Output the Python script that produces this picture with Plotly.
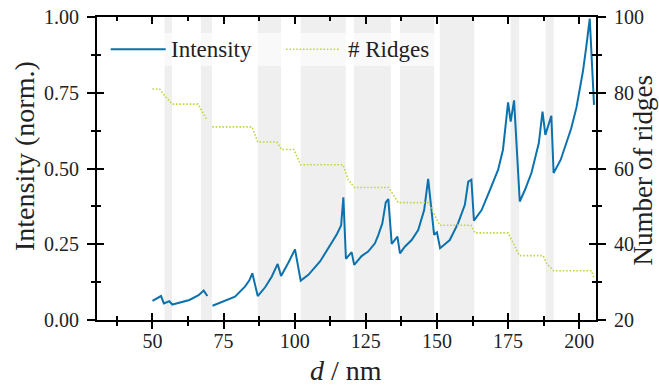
import plotly.graph_objects as go

# ---- data ----
d_int = [50, 53, 54, 55.9, 57, 60, 63, 66.2, 68, 69.3, 70,
         71.1, 75.5, 79, 82.5, 84, 85.1, 87, 89.6, 91.9, 94, 95.2, 97.8, 100.1,
         102.1, 104.8, 108.9, 111.8, 114.7, 116.3, 117.1, 118.0, 120.0, 120.9,
         123.5, 125.8, 128.2, 129.4, 130.8, 132, 132.9, 134.1, 136.1, 137,
         138.7, 141.1, 143.4, 145.5, 146.9, 149.0, 150, 151.1, 154.5, 157.4,
         159.8, 161, 162.1, 163, 165.7, 168.6, 171.5, 173.2, 175, 175.9, 177.1,
         179.1, 180.9, 183.2, 185.8, 187.1, 188.1, 190.2, 191, 193.5, 197.2,
         199, 201.3, 202.5, 203.7, 205.2]
intensity = [0.063, 0.079, 0.055, 0.062, 0.051, 0.058, 0.066, 0.082, 0.097, 0.079, None,
             0.047, 0.064, 0.077, 0.11, 0.13, 0.154, 0.079, 0.108, 0.143, 0.185, 0.145, 0.19, 0.233,
             0.130, 0.149, 0.193, 0.237, 0.281, 0.312, 0.405, 0.202, 0.224, 0.182,
             0.211, 0.226, 0.253, 0.281, 0.319, 0.388, 0.399, 0.251, 0.275, 0.220,
             0.242, 0.264, 0.297, 0.363, 0.466, 0.281, 0.289, 0.237, 0.264, 0.319,
             0.38, 0.457, 0.463, 0.328, 0.363, 0.429, 0.496, 0.562, 0.718, 0.655, 0.725,
             0.391, 0.429, 0.485, 0.584, 0.688, 0.611, 0.674, 0.485, 0.529, 0.633,
             0.70, 0.82, 0.903, 0.995, 0.71]

d_ridges = [50, 52.5, 54.5, 57, 66, 69, 70, 71, 85, 87, 93.7, 95.4, 99.7, 102.1,
            117, 118.8, 121, 133, 136.4, 147, 151, 162, 163.3, 175, 179, 187.3,
            188.5, 191, 204.3, 205.2]
ridges = [81, 81, 79, 77, 77, 73, None, 71, 71, 67, 67, 65, 65, 61,
          61, 57, 55, 55, 51, 51, 45, 45, 43, 43, 37, 37,
          35, 33, 33, 31]

band_start = [54.2, 67.0, 87.0, 102.1, 120.8, 137.0, 151.0, 175.9, 188.2]
band_end = [56.9, 70.9, 95.2, 117.9, 133.8, 149.0, 163.1, 178.9, 191.0]

x_ticks = [50, 75, 100, 125, 150, 175, 200]
y_ticks = [0.0, 0.25, 0.5, 0.75, 1.0]
y2_ticks = [20, 40, 60, 80, 100]

legend_names = ["Intensity", "# Ridges"]
x_title = "<i>d</i> / nm"
y_title = "Intensity (norm.)"
y2_title = "Number of ridges"

# ---- style ----
FONT = "Liberation Serif, DejaVu Serif, serif"
C_INT = "#0c72ae"
C_RID = "#c0d444"
XR = [30.5, 205.9]
W, H = 659, 389
ML, MR, MT, MB = 97, 63, 17, 69
PW, PH = W - ML - MR, H - MT - MB


def px2paper_x(px):
    return (px - ML) / PW


def px2paper_y(py):
    return (H - MB - py) / PH


fig = go.Figure()
fig.add_trace(go.Scatter(x=d_int, y=intensity, mode="lines", name=legend_names[0],
                         line=dict(color=C_INT, width=2), connectgaps=False,
                         xaxis="x", yaxis="y", showlegend=False))
fig.add_trace(go.Scatter(x=d_ridges, y=ridges, mode="lines", name=legend_names[1],
                         line=dict(color=C_RID, width=1.6, dash="1.6px,1.8px"),
                         connectgaps=False, xaxis="x", yaxis="y2", showlegend=False))
# dummy traces so the tick-only overlay axes are drawn
for xa, ya in [("x2", "y"), ("x", "y3"), ("x", "y4")]:
    fig.add_trace(go.Scatter(x=[None], y=[None], xaxis=xa, yaxis=ya,
                             showlegend=False, hoverinfo="skip"))

shapes = []
for s, e in zip(band_start, band_end):
    shapes.append(dict(type="rect", xref="x", yref="paper", x0=s, x1=e, y0=0, y1=1,
                       fillcolor="#efefef", line=dict(width=0), layer="below"))
# legend box
shapes.append(dict(type="rect", xref="paper", yref="paper",
                   x0=px2paper_x(103), x1=px2paper_x(434),
                   y0=px2paper_y(66), y1=px2paper_y(33),
                   fillcolor="rgba(255,255,255,0.6)", line=dict(width=0), layer="below"))
ly = px2paper_y(49.3)
shapes.append(dict(type="line", xref="paper", yref="paper",
                   x0=px2paper_x(110.7), x1=px2paper_x(165.7), y0=ly, y1=ly,
                   line=dict(color=C_INT, width=2)))
shapes.append(dict(type="line", xref="paper", yref="paper",
                   x0=px2paper_x(286), x1=px2paper_x(340), y0=ly, y1=ly,
                   line=dict(color=C_RID, width=1.6, dash="1.6px,1.8px")))

txtc = "#222"
annotations = [
    dict(text=legend_names[0], xref="paper", yref="paper", x=px2paper_x(169), y=ly,
         xanchor="left", yanchor="middle", showarrow=False,
         font=dict(family=FONT, size=23, color=txtc)),
    dict(text=legend_names[1], xref="paper", yref="paper", x=px2paper_x(345.5), y=ly,
         xanchor="left", yanchor="middle", showarrow=False,
         font=dict(family=FONT, size=23, color=txtc)),
    dict(text=x_title, xref="paper", yref="paper", x=px2paper_x(346), y=px2paper_y(370),
         xanchor="center", yanchor="middle", showarrow=False,
         font=dict(family=FONT, size=28, color=txtc)),
    dict(text=y_title, xref="paper", yref="paper", x=px2paper_x(24), y=px2paper_y(156),
         xanchor="center", yanchor="middle", showarrow=False, textangle=-90,
         font=dict(family=FONT, size=28, color=txtc)),
    dict(text=y2_title, xref="paper", yref="paper", x=px2paper_x(642.5), y=px2paper_y(171),
         xanchor="center", yanchor="middle", showarrow=False, textangle=-90,
         font=dict(family=FONT, size=27, color=txtc)),
]

tickfont = dict(family=FONT, size=20, color=txtc)
common = dict(showline=True, linecolor="black", linewidth=2, showgrid=False,
              zeroline=False, tickcolor="black", tickwidth=1.6, automargin=False)

fig.update_layout(
    width=W, height=H, margin=dict(l=ML, r=MR, t=MT, b=MB, autoexpand=False),
    paper_bgcolor="white", plot_bgcolor="white",
    font=dict(family=FONT),
    shapes=shapes, annotations=annotations, showlegend=False,
    xaxis=dict(range=XR, tickmode="array", tickvals=x_ticks, ticks="outside", ticklen=7,
               minor=dict(ticks="outside", ticklen=4, dtick=12.5, tick0=37.5,
                          tickcolor="black", tickwidth=1.6),
               tickfont=tickfont, anchor="y", ticklabelstandoff=-5, **common),
    xaxis2=dict(range=XR, overlaying="x", side="bottom", anchor="y", tickmode="array",
                tickvals=x_ticks, ticks="inside", ticklen=7, mirror="ticks",
                minor=dict(ticks="inside", ticklen=4, dtick=12.5, tick0=37.5,
                           tickcolor="black", tickwidth=1.6),
                showticklabels=False, **common),
    yaxis=dict(range=[0, 1], tickmode="array", tickvals=y_ticks, ticks="outside", ticklen=8,
               tickformat=".2f",
               minor=dict(ticks="outside", ticklen=4, dtick=0.125, tick0=0,
                          tickcolor="black", tickwidth=1.6),
               tickfont=tickfont, anchor="x", ticklabelstandoff=4, **common),
    yaxis3=dict(range=[0, 1], overlaying="y", side="left", anchor="x", tickmode="array",
                tickvals=y_ticks, ticks="inside", ticklen=7,
                minor=dict(ticks="inside", ticklen=4, dtick=0.125, tick0=0,
                           tickcolor="black", tickwidth=1.6),
                showticklabels=False, **common),
    yaxis2=dict(range=[20, 100], overlaying="y", side="right", anchor="x", tickmode="array",
                tickvals=y2_ticks, ticks="outside", ticklen=8,
                minor=dict(ticks="outside", ticklen=4, dtick=10, tick0=20,
                           tickcolor="black", tickwidth=1.6),
                tickfont=tickfont, ticklabelstandoff=4, **common),
    yaxis4=dict(range=[20, 100], overlaying="y", side="right", anchor="x", tickmode="array",
                tickvals=y2_ticks, ticks="inside", ticklen=7,
                minor=dict(ticks="inside", ticklen=4, dtick=10, tick0=20,
                           tickcolor="black", tickwidth=1.6),
                showticklabels=False, **common),
)

fig.write_html("out.html")
